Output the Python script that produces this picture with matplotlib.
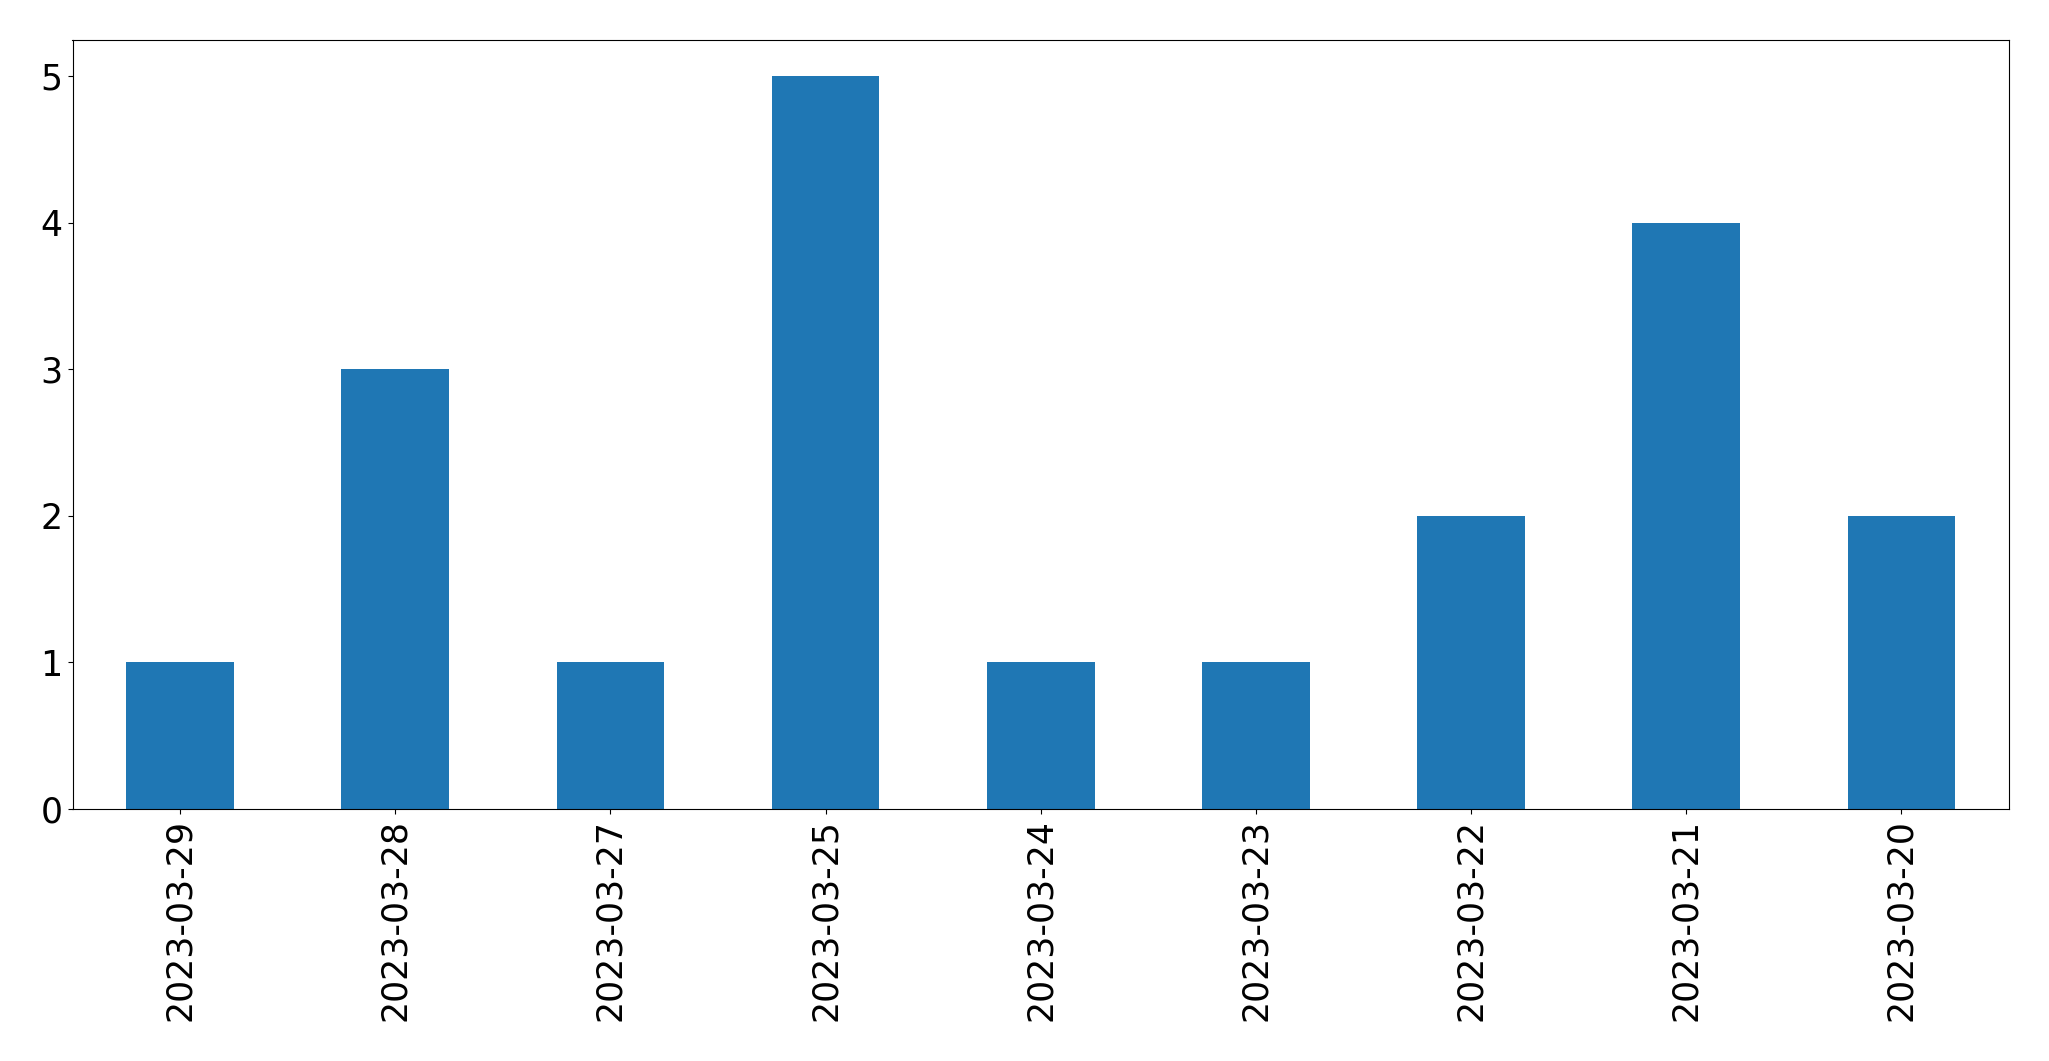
import matplotlib
matplotlib.use("Agg")
import matplotlib.pyplot as plt
import numpy as np

dates = ['2023-03-29', '2023-03-28', '2023-03-27', '2023-03-25', '2023-03-24',
         '2023-03-23', '2023-03-22', '2023-03-21', '2023-03-20']
counts = [1, 3, 1, 5, 1, 1, 2, 4, 2]

W, H = 2049, 1061
fig = plt.figure(figsize=(W / 100, H / 100), dpi=100)
ax = fig.add_axes([72.5 / W, 1 - 809 / H, (2009 - 72.5) / W, (809 - 39.5) / H])

x = np.arange(len(dates))
ax.bar(x, counts, width=0.5, color='#1f77b4')
ax.set_xlim(-0.5, len(dates) - 0.5)
ax.set_ylim(0, 5.25)
ax.set_xticks(x)
ax.set_xticklabels(dates, rotation=90)
ax.tick_params(labelsize=25)

fig.savefig('out.png', dpi=100)
